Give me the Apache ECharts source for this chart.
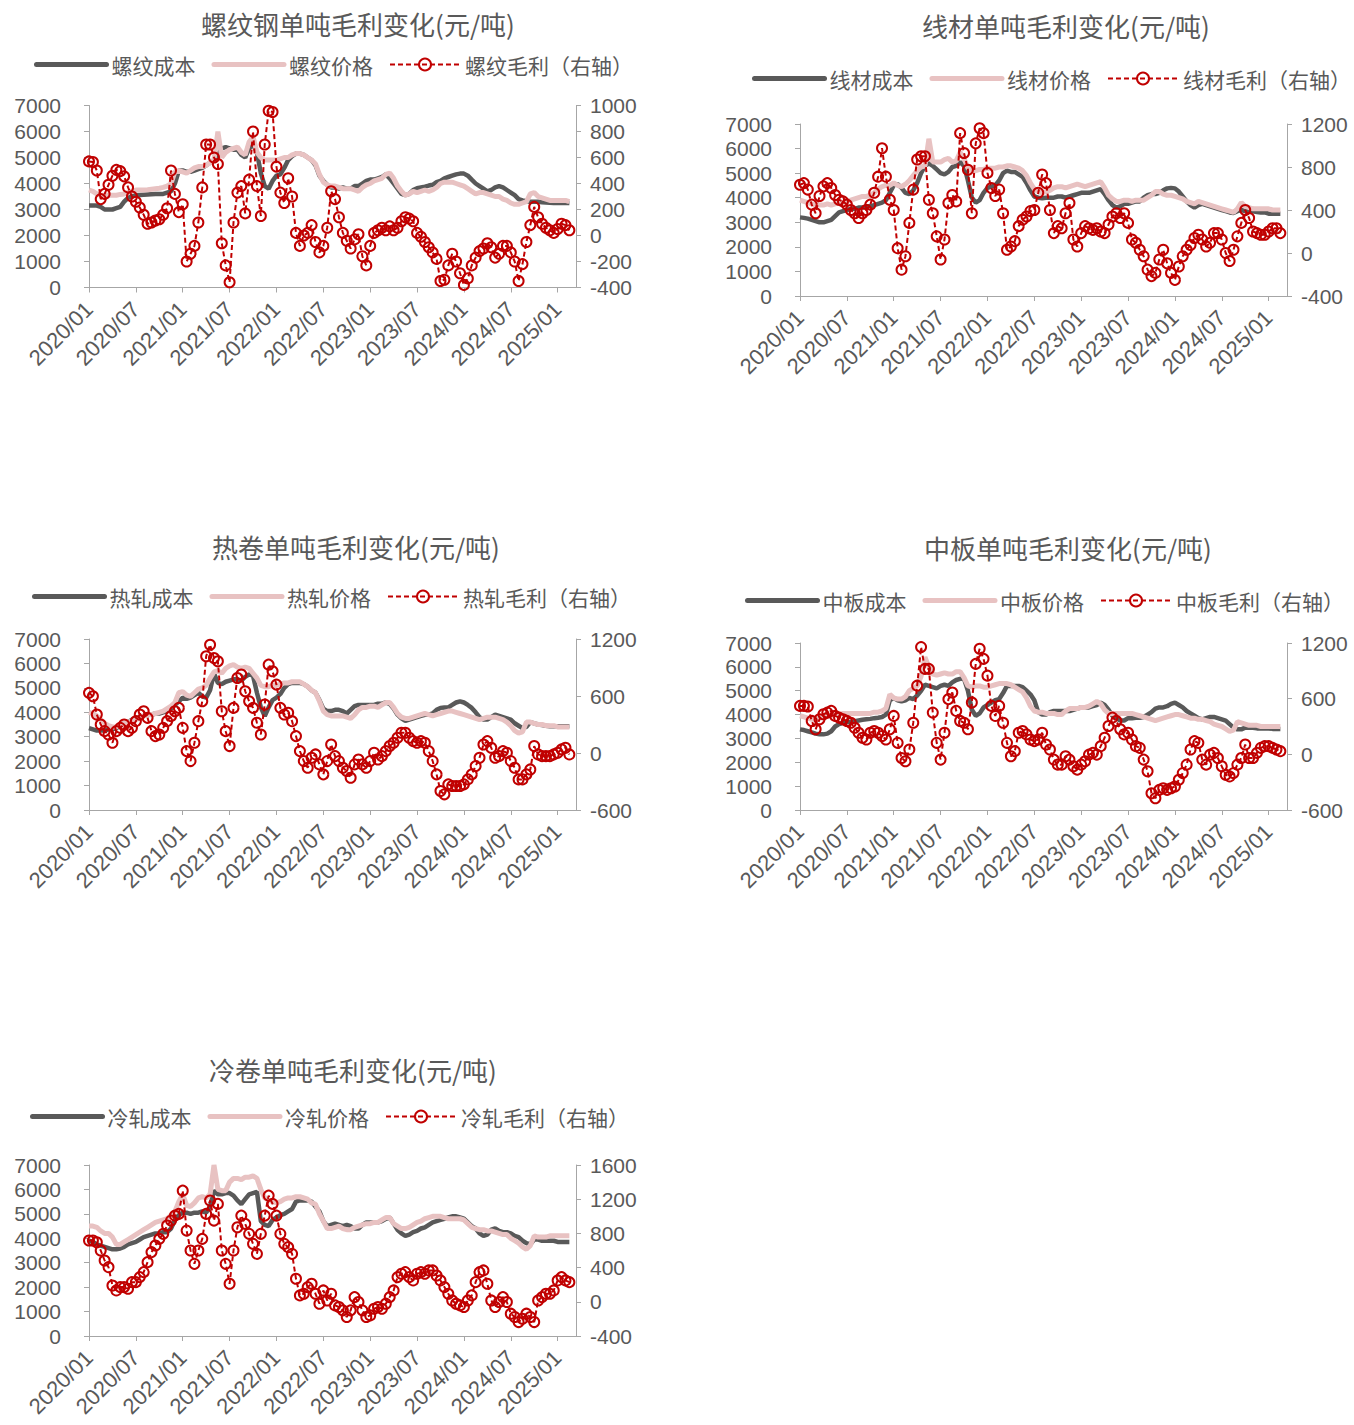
<!DOCTYPE html>
<html><head><meta charset="utf-8">
<script src="https://cdn.jsdelivr.net/npm/echarts@6/dist/echarts.min.js"></script>
<style>html,body{margin:0;padding:0;background:#fff}#c{width:1354px;height:1425px}</style>
</head><body><div id="c"></div>
<script>
// Semi-monthly observations starting 2020/01 (index i = i/2 months after 2020/01)
const startYear = 2020;
const xTickMonths = [0,6,12,18,24,30,36,42,48,54,60];
const leftTicks = [0,7000,1000];

// 螺纹 (rebar)
const rebarCost = [3150,3150,3150,3100,3000,3000,3000,3050,3100,3300,3450,3500,
 3550,3560,3570,3580,3590,3600,3600,3600,3650,3700,4000,4500,
 4500,4450,4450,4500,4550,4600,4700,4800,4900,5100,5350,5400,
 5350,5300,5300,5100,5000,5350,5500,5200,4400,3900,3800,4100,
 4300,4350,4600,4900,5050,5150,5150,5100,5000,4900,4700,4300,
 4100,3950,3850,3850,3800,3850,3800,3800,3900,3900,4000,4100,
 4150,4150,4200,4250,4350,4200,4000,3800,3600,3550,3600,3750,
 3820,3850,3880,3920,3950,4050,4100,4200,4250,4300,4350,4380,
 4380,4300,4150,4000,3900,3800,3700,3750,3850,3900,3850,3750,
 3650,3550,3400,3350,3320,3300,3300,3300,3280,3270,3260,3250,
 3250,3250,3250,3250];
const rebarPrice = [3750,3700,3600,3550,3550,3550,3550,3550,3580,3600,3650,3700,
 3750,3750,3750,3760,3780,3800,3820,3850,3900,4000,4450,4500,
 4450,4400,4500,4600,4650,4650,4700,4800,4900,6000,5000,5200,
 5300,5350,5400,5200,5100,5600,5800,5200,5000,4900,4900,4900,
 4900,4950,5000,5000,5100,5150,5150,5100,5000,4900,4750,4350,
 4050,3950,3900,3900,3850,3800,3800,3800,3750,3700,3850,3950,
 4000,4100,4150,4200,4350,4400,4200,3900,3700,3550,3600,3700,
 3650,3700,3750,3700,3750,3850,4000,4050,4050,4050,4000,3950,
 3900,3800,3700,3600,3650,3650,3600,3550,3500,3500,3400,3350,
 3250,3200,3200,3250,3300,3600,3650,3500,3450,3400,3350,3350,
 3350,3350,3350,3300];
const rebarProfit = [570,565,500,280,320,390,460,505,495,455,370,300,
 260,215,160,90,100,115,125,160,210,500,320,180,
 240,-200,-140,-80,100,370,700,700,600,550,-60,-230,
 -360,100,330,380,170,430,800,380,150,700,960,950,
 530,330,250,440,300,20,-80,0,20,80,-50,-130,
 -80,60,340,280,140,20,-40,-100,-30,10,-160,-230,
 -80,20,40,60,40,70,40,60,110,140,130,110,
 20,-10,-50,-90,-130,-180,-350,-340,-230,-140,-200,-290,
 -380,-330,-230,-170,-120,-100,-60,-90,-170,-140,-80,-80,
 -130,-200,-350,-220,-50,80,220,140,90,60,40,20,
 50,90,80,40];

// 线材 (wire rod)
const wireCost = [3200,3180,3150,3100,3050,3000,3000,3050,3100,3250,3400,3450,
 3500,3550,3550,3600,3600,3650,3650,3700,3750,3800,3900,4200,
 4500,4550,4400,4200,4150,4300,4600,5000,5300,5400,5300,5150,
 5000,4950,5050,5250,5300,5450,5300,4700,4000,3800,3900,4200,
 4400,4450,4500,4700,5000,5100,5050,5050,4950,4850,4600,4300,
 4050,4000,3980,4000,4000,4000,4050,4050,4000,4050,4100,4150,
 4200,4200,4200,4250,4300,4350,4150,3900,3700,3600,3650,3750,
 3750,3800,3850,3850,4000,4100,4150,4150,4200,4300,4380,4400,
 4380,4250,4050,3850,3700,3600,3700,3750,3700,3650,3600,3550,
 3500,3450,3400,3380,3450,3500,3450,3450,3450,3420,3400,3400,
 3350,3350,3350,3350];
const wirePrice = [3900,3850,3800,3750,3700,3700,3700,3750,3700,3750,3800,3800,
 3850,3900,3950,4000,4050,4050,4100,4200,4350,4450,4500,4500,
 4600,4500,4450,4550,4700,4900,5100,5250,5300,6400,5450,5450,
 5450,5550,5600,5450,5500,5850,5600,5200,5100,5100,5150,5150,
 5200,5200,5200,5250,5250,5300,5300,5250,5200,5100,4900,4600,
 4350,4250,4200,4250,4300,4400,4450,4450,4400,4450,4500,4550,
 4500,4450,4500,4550,4600,4650,4400,4100,3950,3850,3850,3900,
 3900,3850,3900,3900,3900,4000,4100,4250,4250,4150,4100,4100,
 4050,4000,3950,3850,3800,3750,3850,3800,3750,3700,3650,3600,
 3550,3500,3450,3400,3550,3800,3650,3600,3550,3550,3550,3550,
 3550,3500,3500,3500];
const wireProfit = [635,650,590,450,370,530,620,650,605,540,495,480,
 450,400,370,325,370,400,450,560,710,975,710,495,
 400,45,-155,-30,280,590,870,900,900,495,370,155,
 -60,125,465,540,480,1115,930,775,370,1020,1160,1115,
 745,605,530,590,370,30,60,110,250,310,340,390,
 400,560,730,650,400,185,250,230,370,465,125,60,
 185,250,230,215,230,200,185,265,340,370,325,370,
 280,125,95,30,-30,-155,-215,-185,-60,30,-95,-185,
 -250,-125,-30,30,75,140,170,125,60,95,185,185,
 125,0,-75,30,155,280,400,325,200,185,170,170,
 200,230,230,185];

// 热轧 (hot-rolled coil)
const hotCost = [3350,3300,3250,3250,3250,3300,3300,3350,3450,3550,3600,3700,
 3750,3800,3850,3900,3900,3950,3950,4000,4050,4150,4300,4450,
 4600,4550,4600,4700,4800,4650,4600,4900,5600,5200,5150,5250,
 5300,5350,5350,5300,5450,5550,5500,4800,4200,3850,4200,4500,
 4600,4750,5000,5150,5200,5200,5200,5150,5050,4900,4800,4500,
 4150,4050,4050,4100,4100,4050,3950,4100,4250,4300,4300,4300,
 4300,4300,4350,4350,4400,4350,4150,3900,3750,3650,3700,3750,
 3800,3850,3900,3900,3950,4100,4180,4200,4200,4300,4400,4450,
 4400,4300,4180,4000,3800,3700,3700,3800,3900,3850,3800,3750,
 3700,3550,3450,3350,3400,3600,3550,3500,3480,3450,3430,3430,
 3430,3430,3430,3430];
const hotPrice = [4000,3950,3850,3700,3550,3450,3400,3400,3450,3550,3600,3650,
 3700,3750,3850,3900,3900,3950,4000,4050,4150,4250,4400,4800,
 4850,4700,4650,4800,4950,5000,5100,5400,5650,5700,5600,5800,
 5900,5950,5850,5800,5850,5800,5600,5400,5100,5050,5050,5100,
 5100,5150,5200,5200,5250,5250,5250,5150,5050,4900,4800,4450,
 4050,3900,3850,3850,3850,3850,3800,3750,3900,4100,4200,4200,
 4250,4250,4200,4300,4400,4400,4200,3950,3800,3750,3750,3800,
 3850,3900,3950,3900,3850,3900,3950,4000,4050,4050,4000,3950,
 3900,3850,3800,3750,3700,3750,3800,3800,3800,3750,3700,3600,
 3450,3250,3150,3200,3600,3600,3550,3500,3500,3450,3450,3450,
 3400,3400,3400,3400];
const hotProfit = [633,598,405,300,230,195,108,230,265,300,230,265,
 335,405,440,370,230,178,195,265,335,388,440,475,
 265,20,-85,108,335,545,1018,1140,1000,966,440,230,
 73,475,790,826,650,545,475,318,195,510,930,860,
 720,475,405,423,335,178,20,-85,-155,-50,-15,-120,
 -225,-85,90,-33,-85,-155,-190,-260,-120,-68,-120,-155,
 -85,3,-68,-33,20,73,108,160,213,213,160,125,
 108,125,108,20,-85,-225,-400,-435,-330,-348,-348,-348,
 -330,-278,-225,-138,-50,90,125,55,-50,-33,20,3,
 -85,-155,-278,-278,-225,-173,73,-15,-33,-33,-33,-15,
 3,38,55,-15];

// 中板 (medium plate)
const plateCost = [3380,3350,3300,3250,3200,3170,3170,3200,3300,3500,3600,3650,
 3680,3700,3720,3750,3780,3800,3820,3850,3870,3900,4000,4600,
 4700,4600,4550,4600,4700,4650,4800,5000,5250,5200,5150,5100,
 5200,5250,5200,5350,5450,5500,5500,5000,4200,3950,4050,4300,
 4400,4500,4600,4650,4900,5200,5200,5200,5200,5150,5000,4850,
 4600,4100,4000,4000,4100,4150,4150,4150,4150,4150,4200,4250,
 4300,4300,4300,4350,4400,4500,4400,4200,3950,3850,3750,3750,
 3850,3850,3870,3870,3900,4000,4100,4250,4300,4300,4350,4450,
 4500,4400,4300,4150,4050,3950,3850,3800,3850,3900,3900,3850,
 3800,3750,3600,3450,3380,3380,3450,3450,3450,3420,3420,3420,
 3420,3400,3400,3400];
const platePrice = [3950,3900,3850,3800,3800,3850,3900,3950,3950,4000,4000,4050,
 4050,4050,4050,4050,4050,4050,4050,4100,4100,4150,4250,4850,
 4700,4650,4650,4750,5000,5100,5200,5600,6400,6000,5700,5650,
 5700,5750,5700,5700,5800,5800,5550,5200,5150,5200,5200,5150,
 5150,5200,5250,5300,5300,5300,5250,5150,5050,4950,4700,4350,
 4150,4100,4100,4050,4050,4050,4000,4000,4150,4250,4250,4250,
 4300,4300,4350,4450,4550,4450,4200,4050,4050,4050,4050,4050,
 4050,4050,4000,3950,3900,3850,3800,3750,3800,3850,3900,3950,
 4000,4000,3950,3900,3850,3850,3800,3800,3750,3700,3600,3550,
 3500,3400,3300,3350,3700,3650,3600,3550,3550,3550,3500,3500,
 3500,3500,3500,3500];
const plateProfit = [522,522,515,360,270,378,432,450,468,414,396,378,
 360,341,287,233,179,160,233,251,233,197,160,270,
 414,124,-39,-75,52,341,740,1156,921,921,450,124,
 -57,233,595,667,468,360,341,270,559,975,1138,1029,
 848,522,414,522,341,124,-21,34,233,251,215,160,
 142,160,233,106,52,-57,-111,-111,-21,-57,-129,-165,
 -111,-75,-3,16,-3,88,179,305,396,360,270,215,
 233,160,88,70,-57,-183,-419,-473,-383,-365,-383,-365,
 -347,-274,-202,-111,52,142,124,-57,-111,-3,16,-39,
 -129,-220,-238,-202,-111,-39,106,-39,-39,16,70,88,
 88,70,52,34];

// 冷轧 (cold-rolled)
const coldCost = [3900,3850,3750,3700,3650,3600,3550,3550,3580,3650,3750,3800,
 3850,3950,4050,4100,4150,4200,4200,4250,4250,4400,4750,4950,
 5050,5050,5000,5050,5050,5100,5050,5300,5950,5800,5800,5850,
 5850,5750,5550,5400,5600,5800,5850,5900,4700,4550,4500,4750,
 4850,4950,5000,5100,5200,5500,5550,5550,5550,5500,5300,5100,
 4700,4500,4550,4600,4550,4500,4550,4500,4400,4400,4550,4650,
 4650,4650,4650,4700,4800,4850,4600,4350,4200,4100,4150,4250,
 4300,4400,4450,4550,4650,4700,4750,4800,4850,4900,4900,4850,
 4800,4650,4500,4400,4200,4100,4150,4350,4400,4300,4250,4250,
 4200,4100,4050,3900,3800,3750,3950,3950,3900,3900,3900,3900,
 3850,3850,3850,3850];
const coldPrice = [4500,4500,4450,4300,4200,4200,4050,3750,3750,3850,3950,4050,
 4150,4250,4350,4450,4550,4650,4700,4750,4800,4950,5100,5500,
 5800,5350,5300,5450,5650,5700,5650,5800,7000,6000,5950,5950,
 6300,6450,6450,6400,6500,6500,6550,6450,6000,5650,5550,5500,
 5450,5500,5600,5650,5650,5700,5700,5650,5600,5450,5400,5000,
 4700,4400,4400,4450,4500,4400,4350,4350,4450,4500,4550,4600,
 4600,4650,4650,4750,4850,4850,4600,4500,4400,4400,4450,4550,
 4650,4700,4800,4850,4900,4900,4900,4850,4800,4800,4800,4800,
 4750,4600,4450,4400,4350,4350,4300,4300,4250,4200,4150,4150,
 4000,3900,3800,3650,3550,3700,4100,4050,4050,4050,4100,4100,
 4100,4100,4100,4100];
const coldProfit = [717,717,697,600,483,405,191,133,172,172,153,230,
 230,289,347,464,581,658,736,795,892,950,1008,1028,
 1300,833,600,444,600,736,1028,1184,950,1145,600,444,
 211,600,872,1008,911,795,678,561,795,1008,1242,1145,
 1008,795,678,639,561,269,75,94,172,211,94,-22,
 133,16,94,-42,-61,-100,-178,-100,55,-3,-100,-178,
 -159,-81,-61,-81,-22,55,133,289,328,347,289,250,
 328,347,328,367,367,308,250,172,94,16,-22,-42,
 -61,16,75,230,347,367,211,16,-61,-3,55,-3,
 -139,-178,-237,-198,-139,-178,-237,16,55,94,94,133,
 250,289,250,230];

const panels = [
  {title:'螺纹钢单吨毛利变化(元/吨)', names:['螺纹成本','螺纹价格','螺纹毛利（右轴）'],
   cost:rebarCost, price:rebarPrice, profit:rebarProfit, right:[-400,1000,200],
   grid:{left:89, top:105.5, width:487, height:182}, tXY:[358,23], lXY:[34,66]},
  {title:'线材单吨毛利变化(元/吨)', names:['线材成本','线材价格','线材毛利（右轴）'],
   cost:wireCost, price:wirePrice, profit:wireProfit, right:[-400,1200,400],
   grid:{left:800, top:124, width:487, height:172}, tXY:[1066,25], lXY:[752,80]},
  {title:'热卷单吨毛利变化(元/吨)', names:['热轧成本','热轧价格','热轧毛利（右轴）'],
   cost:hotCost, price:hotPrice, profit:hotProfit, right:[-600,1200,600],
   grid:{left:89, top:639, width:487, height:171}, tXY:[356,546], lXY:[32,598]},
  {title:'中板单吨毛利变化(元/吨)', names:['中板成本','中板价格','中板毛利（右轴）'],
   cost:plateCost, price:platePrice, profit:plateProfit, right:[-600,1200,600],
   grid:{left:800, top:643, width:487, height:167}, tXY:[1068,547], lXY:[745,602]},
  {title:'冷卷单吨毛利变化(元/吨)', names:['冷轧成本','冷轧价格','冷轧毛利（右轴）'],
   cost:coldCost, price:coldPrice, profit:coldProfit, right:[-400,1600,400],
   grid:{left:89, top:1165, width:487, height:171}, tXY:[353,1069], lXY:[30,1118]}
];

const FONT = '"Noto Sans CJK SC", "Noto Sans", sans-serif';
const NUMFONT = '"Liberation Sans", Arial, sans-serif';
const TXT = '#595959';
const AX = '#A6A6A6';
const COST_C = '#595959', PRICE_C = '#E8C2C2', PROFIT_C = '#C00000';

const fmtMonth = v => {
  const y = startYear + Math.floor(v / 12);
  const m = Math.round(v % 12) + 1;
  return y + '/' + (m < 10 ? '0' + m : m);
};
const plain = v => String(v);
const toXY = arr => arr.map((v, i) => [i / 2, v]);

const option = {
  animation: false,
  backgroundColor: '#fff',
  textStyle: {fontFamily: FONT},
  grid: [], xAxis: [], yAxis: [], series: [], legend: [], graphic: []
};

panels.forEach((p, k) => {
  option.grid.push(Object.assign({containLabel: false}, p.grid));
  option.graphic.push({type:'text', x:p.tXY[0], y:p.tXY[1],
    style:{text:p.title, fill:TXT, font:'26px ' + FONT, align:'center', verticalAlign:'middle'}});
  option.legend.push({
    left:p.lXY[0], top:p.lXY[1] - 12, orient:'horizontal', padding:0, width:660,
    itemWidth:70, itemHeight:15, itemGap:16,
    textStyle:{color:TXT, fontSize:21, fontFamily:FONT},
    data:[
      {name:p.names[0], itemStyle:{opacity:0}, lineStyle:{width:5, cap:'round'}},
      {name:p.names[1], itemStyle:{opacity:0}, lineStyle:{width:5, cap:'round'}},
      {name:p.names[2], lineStyle:{width:2, type:[5,3]}}
    ]
  });
  option.xAxis.push({
    type:'value', gridIndex:k, min:0, max:62.35, interval:6,
    axisLine:{show:true, onZero:false, lineStyle:{color:AX, width:1}},
    axisTick:{show:true, length:5, lineStyle:{color:AX}, customValues:xTickMonths},
    axisLabel:{rotate:45, color:TXT, fontSize:22, fontFamily:NUMFONT, margin:18,
      customValues:xTickMonths, formatter:fmtMonth},
    splitLine:{show:false}
  });
  option.yAxis.push({
    type:'value', gridIndex:k, position:'left', min:leftTicks[0], max:leftTicks[1], interval:leftTicks[2],
    axisLine:{show:true, lineStyle:{color:AX}},
    axisTick:{show:true, length:5, lineStyle:{color:AX}},
    axisLabel:{color:TXT, fontSize:21, fontFamily:NUMFONT, margin:28, formatter:plain},
    splitLine:{show:false}
  });
  option.yAxis.push({
    type:'value', gridIndex:k, position:'right', min:p.right[0], max:p.right[1], interval:p.right[2],
    axisLine:{show:true, lineStyle:{color:AX}},
    axisTick:{show:true, length:5, lineStyle:{color:AX}},
    axisLabel:{color:TXT, fontSize:21, fontFamily:NUMFONT, margin:14, formatter:plain},
    splitLine:{show:false}
  });
  option.series.push({
    name:p.names[0], type:'line', xAxisIndex:k, yAxisIndex:2*k, data:toXY(p.cost),
    symbol:'none', color:COST_C, lineStyle:{color:COST_C, width:4.5}, z:2
  });
  option.series.push({
    name:p.names[1], type:'line', xAxisIndex:k, yAxisIndex:2*k, data:toXY(p.price),
    symbol:'none', color:PRICE_C, lineStyle:{color:PRICE_C, width:5}, z:3
  });
  option.series.push({
    name:p.names[2], type:'line', xAxisIndex:k, yAxisIndex:2*k+1, data:toXY(p.profit),
    symbol:'circle', symbolSize:10, showSymbol:true, color:PROFIT_C,
    itemStyle:{color:'rgba(255,255,255,0)', borderColor:PROFIT_C, borderWidth:2},
    lineStyle:{color:PROFIT_C, width:2, type:[5,3]}, z:4
  });
});

const chart = echarts.init(document.getElementById('c'), null, {renderer:'svg'});
chart.setOption(option);
</script>
</body></html>
